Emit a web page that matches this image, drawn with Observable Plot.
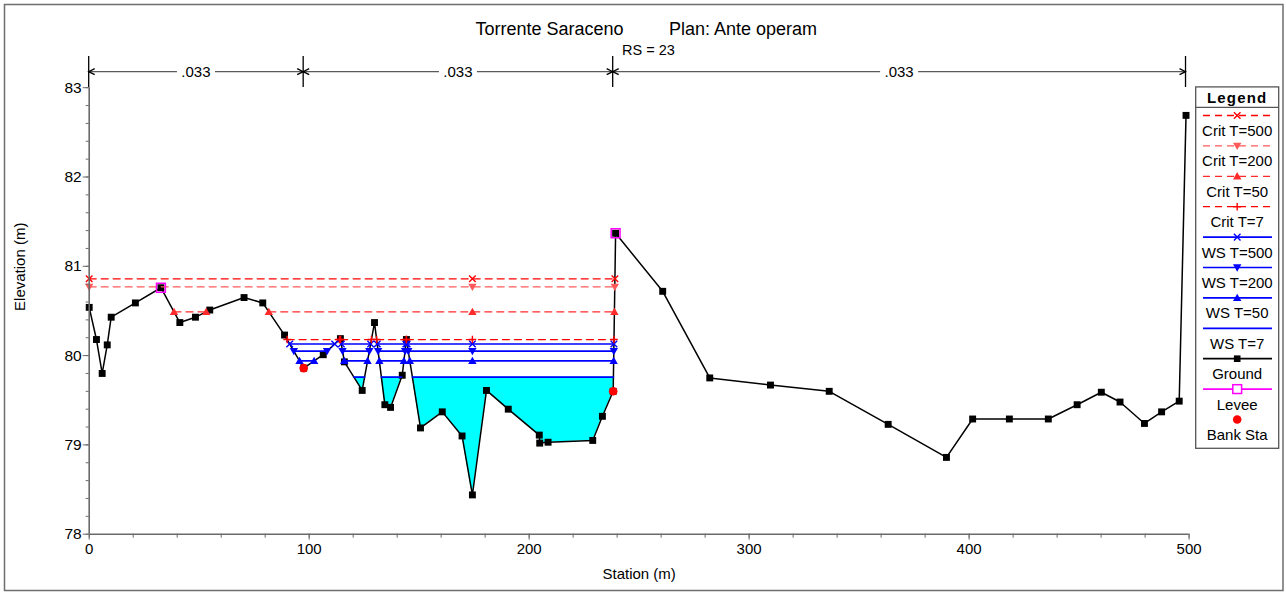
<!DOCTYPE html>
<html><head><meta charset="utf-8">
<script src="https://cdn.jsdelivr.net/npm/d3@7"></script>
<script src="https://cdn.jsdelivr.net/npm/@observablehq/plot@0.6"></script>
<style>body{margin:0;background:#fff}svg{display:block}</style>
</head><body><div id="chart"></div>
<script>
// ---------------- DATA ----------------
const stations = [0,3.3,5.9,8.2,10.0,21.0,32.6,41.2,48.3,54.8,70.4,78.9,88.8,97.5,106.4,114.2,116.0,124.1,129.7,134.4,137.0,142.3,144.2,150.6,160.5,169.5,174.2,180.6,190.5,204.6,204.8,208.6,228.9,233.3,238.2,239.3,260.7,282.1,309.7,336.4,363.2,389.7,401.6,418.3,436.0,449.1,460.1,468.6,479.7,487.5,495.5,498.6];
const elevations = [80.54,80.18,79.80,80.12,80.43,80.59,80.76,80.37,80.43,80.51,80.65,80.59,80.23,79.86,80.01,80.19,79.93,79.61,80.37,79.45,79.42,79.78,80.18,79.19,79.37,79.10,78.44,79.61,79.40,79.11,79.02,79.03,79.05,79.32,79.60,81.37,80.72,79.75,79.67,79.60,79.23,78.86,79.29,79.29,79.29,79.45,79.59,79.48,79.24,79.37,79.49,82.69];
const leveeStations = [32.6, 239.3];
const leveeElevations = [80.76, 81.37];
const bankStations = [97.5, 238.2];
const bankElevations = [79.86, 79.60];
const manningBreaks = [0, 97.5, 238.2, 498.6];
const manningValues = [".033", ".033", ".033"];
const profileNames = ["Crit T=500","Crit T=200","Crit T=50","Crit T=7","WS T=500","WS T=200","WS T=50","WS T=7"];
const profileElevations = [80.86, 80.77, 80.49, 80.18, 80.13, 80.05, 79.94, 79.76];
const xTicks = [0,100,200,300,400,500];
const yTicks = [78,79,80,81,82,83];
const titleLeft = "Torrente Saraceno";
const titleRight = "Plan: Ante operam";
const subtitle = "RS = 23";
const xLabel = "Station (m)";
const yLabel = "Elevation (m)";
const legendTitle = "Legend";

// ---------------- STYLES ----------------
const sym = {
  times: {draw(c, s){const r=Math.sqrt(s/Math.PI); c.moveTo(-r,-r); c.lineTo(r,r); c.moveTo(r,-r); c.lineTo(-r,r);}},
  plus: {draw(c, s){const r=Math.sqrt(s/Math.PI)*1.15; c.moveTo(-r,0); c.lineTo(r,0); c.moveTo(0,-r); c.lineTo(0,r);}},
  triUp: {draw(c, s){const r=Math.sqrt(s/Math.PI); c.moveTo(0,-r); c.lineTo(r,r*0.75); c.lineTo(-r,r*0.75); c.closePath();}},
  triDown: {draw(c, s){const r=Math.sqrt(s/Math.PI); c.moveTo(0,r); c.lineTo(r,-r*0.75); c.lineTo(-r,-r*0.75); c.closePath();}}
};
const styleOf = {
  "Crit T=500": {color:"#ff0000", dash:"7,5", symbol:"times"},
  "Crit T=200": {color:"#ff5a5a", dash:"7,5", symbol:"triDown"},
  "Crit T=50":  {color:"#ff2a2a", dash:"7,5", symbol:"triUp"},
  "Crit T=7":   {color:"#ff0000", dash:"7,5", symbol:"plus"},
  "WS T=500":   {color:"#0000ff", dash:null, symbol:"times"},
  "WS T=200":   {color:"#0000ff", dash:null, symbol:"triDown"},
  "WS T=50":    {color:"#0000ff", dash:null, symbol:"triUp"},
  "WS T=7":     {color:"#0000ff", dash:null, symbol:null}
};
const stroked = s => s === "times" || s === "plus";

// ---------------- DERIVED ----------------
const ground = stations.map((x, i) => ({x, y: elevations[i]}));
const levees = leveeStations.map((x, i) => ({x, y: leveeElevations[i]}));
const banks = bankStations.map((x, i) => ({x, y: bankElevations[i]}));
const iL = stations.indexOf(leveeStations[0]);
const iR = stations.indexOf(leveeStations[1]);
const thalweg = stations[iL + d3.minIndex(elevations.slice(iL, iR + 1))];

function wetSegments(ws) {
  const start = ws > elevations[iL] ? 0 : iL;
  const segs = []; let cur = null;
  if (elevations[start] < ws) cur = [{x: stations[start], y: elevations[start]}];
  for (let i = start; i < iR; i++) {
    const x0 = stations[i], y0 = elevations[i], x1 = stations[i+1], y1 = elevations[i+1];
    const w0 = y0 < ws, w1 = y1 < ws;
    if (w0 !== w1) {
      const xc = x0 + (ws - y0) / (y1 - y0) * (x1 - x0);
      if (w0) { cur.push({x: xc, y: ws}); segs.push(cur); cur = null; }
      else cur = [{x: xc, y: ws}];
    }
    if (w1) cur.push({x: x1, y: y1});
  }
  if (cur) segs.push(cur);
  return segs;
}

const profiles = profileNames.map((name, k) => ({name, ws: profileElevations[k], segs: wetSegments(profileElevations[k])}));

const fillMarks = profiles.filter(p => p.name === "WS T=7").map(p =>
  Plot.areaY(p.segs.flatMap((s, j) => s.map(q => ({x: q.x, y1: q.y, y2: p.ws, z: j}))),
    {x: "x", y1: "y1", y2: "y2", z: "z", fill: "#00ffff", curve: "linear"}));

const profileMarks = profiles.slice().reverse().flatMap(p => {
  const st = styleOf[p.name];
  const lineData = p.segs.flatMap((s, j) => [{x: s[0].x, y: p.ws, z: j}, {x: s[s.length-1].x, y: p.ws, z: j}]);
  const marks = [Plot.line(lineData, {x: "x", y: "y", z: "z", stroke: st.color, strokeWidth: st.dash ? 1.3 : 1.7, strokeDasharray: st.dash || undefined})];
  if (st.symbol) {
    const pts = p.segs.flatMap(s => {
      const a = s[0].x, b = s[s.length-1].x, xs = [a, b];
      if (thalweg > a && thalweg < b) xs.push(thalweg);
      return xs.map(x => ({x, y: p.ws}));
    });
    marks.push(Plot.dot(pts, stroked(st.symbol)
      ? {x: "x", y: "y", symbol: sym[st.symbol], r: 3.3, fill: "none", stroke: st.color, strokeWidth: 1.4}
      : {x: "x", y: "y", symbol: sym[st.symbol], r: 4.2, fill: st.color, stroke: "none"}));
  }
  return marks;
});

const frameCX = (88.7 + 1188.6) / 2;

const chart = Plot.plot({
  width: 1286, height: 592,
  marginLeft: 88.7, marginRight: 97.4, marginTop: 87.2, marginBottom: 58.3,
  x: {domain: [0, 500]},
  y: {domain: [78, 83]},
  style: {fontFamily: "'Liberation Sans', Arial, sans-serif", fontSize: "15px", background: "white", color: "black", overflow: "visible"},
  marks: [
    ...fillMarks,
    Plot.line(ground, {x: "x", y: "y", stroke: "black", strokeWidth: 1.5}),
    Plot.dot(ground, {x: "x", y: "y", symbol: "square", r: 3.9, fill: "black"}),
    ...profileMarks,
    Plot.dot(levees, {x: "x", y: "y", symbol: "square", r: 5, fill: "none", stroke: "#ff00ff", strokeWidth: 1.5}),
    Plot.dot(banks, {x: "x", y: "y", symbol: "circle", r: 4.3, fill: "#ff0000"}),
    Plot.ruleX([0], {stroke: "#6a6a6a", strokeWidth: 1.6}),
    Plot.ruleY([78], {stroke: "#6a6a6a", strokeWidth: 1.6}),
    Plot.axisX({ticks: xTicks, tickSize: 6, tickPadding: 3, tickFormat: d3.format("d"), label: null, stroke: "#6a6a6a", fill: "black", fontSize: 15}),
    Plot.axisX({ticks: d3.range(0, 501, 20), tickSize: 4, tickFormat: () => "", label: null, stroke: "#6a6a6a"}),
    Plot.axisY({ticks: yTicks, tickSize: 6, tickPadding: 1.5, tickFormat: d3.format("d"), label: null, stroke: "#6a6a6a", fill: "black", fontSize: 15.5}),
    Plot.axisY({ticks: d3.range(0, 26).map(i => 78 + i * 0.2), tickSize: 3, tickFormat: () => "", label: null, stroke: "#6a6a6a"}),
    Plot.text([xLabel], {text: d => d, frameAnchor: "bottom", dy: 44.5, fontSize: 15, fill: "black"}),
    Plot.text([yLabel], {text: d => d, frameAnchor: "left", dx: -68.7, rotate: -90, fontSize: 15, fill: "black"}),
    Plot.text([titleLeft], {text: d => d, frameAnchor: "top", dx: 549 - frameCX, dy: -65, fontSize: 18, fill: "black"}),
    Plot.text([titleRight], {text: d => d, frameAnchor: "top", dx: 742.5 - frameCX, dy: -65, fontSize: 18, fill: "black"}),
    Plot.text([subtitle], {text: d => d, frameAnchor: "top", dx: 648 - frameCX, dy: -43, fontSize: 14.5, fill: "black"})
  ]
});

document.getElementById("chart").appendChild(chart);
const svg = d3.select(chart);
const X = v => chart.scale("x").apply(v);

// outer border
svg.insert("rect", ":first-child").attr("x", 0).attr("y", 0).attr("width", 1286).attr("height", 592).attr("fill", "white");
svg.append("rect").attr("x", 4.5).attr("y", 4.5).attr("width", 1278.5).attr("height", 586).attr("fill", "none").attr("stroke", "#6e6e6e").attr("stroke-width", 1.5);

// Manning's n annotations
const nY = 71.7;
const ng = svg.append("g");
manningValues.forEach((v, i) => {
  const a = X(manningBreaks[i]), b = X(manningBreaks[i+1]), m = (a + b) / 2;
  ng.append("line").attr("x1", a).attr("x2", b).attr("y1", nY).attr("y2", nY).attr("stroke", "#5a5a5a").attr("stroke-width", 1.3);
  ng.append("path").attr("d", `M${a+6},${nY-3}L${a},${nY}L${a+6},${nY+3}M${b-6},${nY-3}L${b},${nY}L${b-6},${nY+3}`).attr("fill", "none").attr("stroke", "black").attr("stroke-width", 1.3);
  ng.append("rect").attr("x", m - 19).attr("y", nY - 9).attr("width", 38).attr("height", 18).attr("fill", "white");
  ng.append("text").attr("x", m).attr("y", nY).attr("text-anchor", "middle").attr("dominant-baseline", "central").attr("font-size", 15).text(v);
});
manningBreaks.forEach(v => {
  ng.append("line").attr("x1", X(v)).attr("x2", X(v)).attr("y1", 56).attr("y2", 87).attr("stroke", "black").attr("stroke-width", 1.3);
});

// Legend
const lg = svg.append("g").attr("font-size", 15);
const L = {x: 1195.7, y: 86.9, w: 83, h: 361.4};
const cx = L.x + L.w / 2;
lg.append("rect").attr("x", L.x).attr("y", L.y).attr("width", L.w).attr("height", L.h).attr("fill", "white").attr("stroke", "#555").attr("stroke-width", 1.3);
lg.append("text").attr("x", cx).attr("y", 97).attr("text-anchor", "middle").attr("dominant-baseline", "central").attr("font-weight", "bold").attr("letter-spacing", 1.2).text(legendTitle);
lg.append("line").attr("x1", L.x).attr("x2", L.x + L.w).attr("y1", 107.3).attr("y2", 107.3).attr("stroke", "#555").attr("stroke-width", 1.3);
const legendItems = [
  ...profileNames.map(n => ({name: n, color: styleOf[n].color, dash: styleOf[n].dash, symbol: styleOf[n].symbol, line: true})),
  {name: "Ground", color: "black", dash: null, symbol: "ground", line: true},
  {name: "Levee", color: "#ff00ff", dash: null, symbol: "levee", line: true},
  {name: "Bank Sta", color: "#ff0000", dash: null, symbol: "bank", line: false}
];
legendItems.forEach((it, i) => {
  const ly = 115.5 + i * 30.4, ty = ly + 15;
  if (it.line) lg.append("line").attr("x1", 1203).attr("x2", 1272).attr("y1", ly).attr("y2", ly).attr("stroke", it.color).attr("stroke-width", it.dash ? 1.3 : 1.7).attr("stroke-dasharray", it.dash);
  if (it.symbol === "ground") {
    lg.append("rect").attr("x", cx - 3.3).attr("y", ly - 3.3).attr("width", 6.6).attr("height", 6.6).attr("fill", "black");
  } else if (it.symbol === "levee") {
    lg.append("rect").attr("x", cx - 4.4).attr("y", ly - 4.4).attr("width", 8.8).attr("height", 8.8).attr("fill", "white").attr("stroke", "#ff00ff").attr("stroke-width", 1.5);
  } else if (it.symbol === "bank") {
    lg.append("circle").attr("cx", cx).attr("cy", ly).attr("r", 4.3).attr("fill", "#ff0000");
  } else if (it.symbol) {
    const isS = stroked(it.symbol), r = isS ? 3.3 : 4.2;
    lg.append("path").attr("transform", `translate(${cx},${ly})`).attr("d", d3.symbol(sym[it.symbol], r * r * Math.PI)())
      .attr("fill", isS ? "none" : it.color).attr("stroke", isS ? it.color : "none").attr("stroke-width", 1.4);
  }
  lg.append("text").attr("x", cx).attr("y", ty).attr("text-anchor", "middle").attr("dominant-baseline", "central").text(it.name);
});
</script>
</body></html>
